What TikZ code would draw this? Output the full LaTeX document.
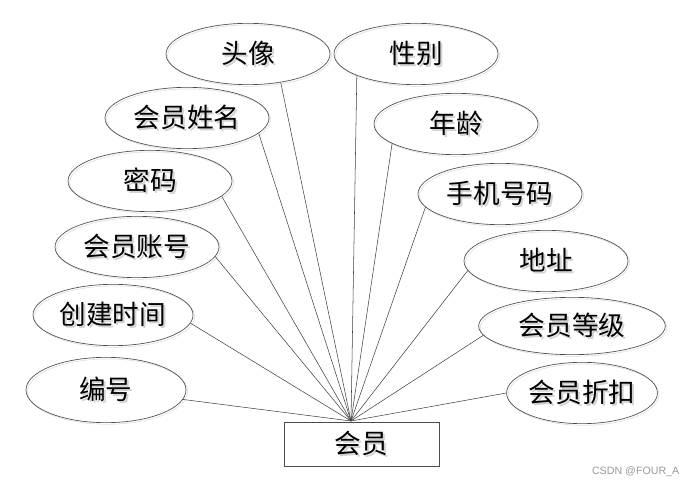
\documentclass[tikz,border=0pt]{standalone}
\usepackage{fontspec}
\setmainfont{Noto Sans CJK SC}
\newfontfamily\wmfont{Liberation Sans}
\usetikzlibrary{shapes.geometric}

% text with a light grey shadow behind it
\newcommand\shd[1]{\rlap{\hspace{1.5pt}\raisebox{-1.5pt}{\color{gray!35}#1}}#1}

\tikzset{
  attr/.style={ellipse, draw=black!70, line width=0.5pt, inner sep=0pt,
    minimum width=123pt, minimum height=46pt,
    font=\fontsize{20pt}{24pt}\selectfont,
    preaction={draw=gray!25, transform canvas={shift={(1.2pt,-1.2pt)}}}},
  ent/.style={rectangle, draw=black!70, line width=0.5pt, inner sep=0pt,
    minimum width=116pt, minimum height=33pt,
    font=\fontsize{20pt}{24pt}\selectfont},
  link/.style={draw=black!75, line width=0.4pt}
}

\begin{document}
\begin{tikzpicture}[x=0.75pt, y=-0.75pt]
    \useasboundingbox (0,0) rectangle (697,488);

    \node[attr] (tx) at (248,54) {\shd{头像}};
    \node[attr] (xb) at (416,54) {\shd{性别}};
    \node[attr] (xm) at (187,118) {\shd{会员姓名}};
    \node[attr] (nl) at (456,124) {\shd{年龄}};
    \node[attr] (mm) at (150,181) {\shd{密码}};
    \node[attr] (sj) at (500,194) {\shd{手机号码}};
    \node[attr] (zh) at (137,247) {\shd{会员账号}};
    \node[attr] (dz) at (546,261) {\shd{地址}};
    \node[attr, minimum width=120pt] (cj) at (113,315) {\shd{创建时间}};
    \node[attr, minimum width=140pt, minimum height=43pt] (dj) at (572,326) {\shd{会员等级}};
    \node[attr, minimum width=120pt, minimum height=49pt] (bh) at (106,390) {\shd{编号}};
    \node[attr, minimum width=106pt] (zk) at (582,393) {\shd{会员折扣}};

    \node[ent] (hy) at (361.5,444) {\shd{会员}};
    \coordinate (p) at (351,421);

    \draw[link] (tx.-41) -- (p);
    \draw[link] (xb.200) -- (p);
    \draw[link] (xm.-12) -- (p);
    \draw[link] (nl.197) -- (p);
    \draw[link] (mm.-12) -- (p);
    \draw[link] (sj.190) -- (p);
    \draw[link] (zh.-7) -- (p);
    \draw[link] (dz.187) -- (p);
    \draw[link] (cj.-6) -- (p);
    \draw[link] (dj.186) -- (p);
    \draw[link] (bh.-7) -- (p);
    \draw[link] (zk.180) -- (p);

    \node[anchor=east, text=gray!80, font=\wmfont\fontsize{8pt}{10pt}\selectfont] (wm) at (684,472) {CSDN @FOUR\_A};
  \end{tikzpicture}
\end{document}
